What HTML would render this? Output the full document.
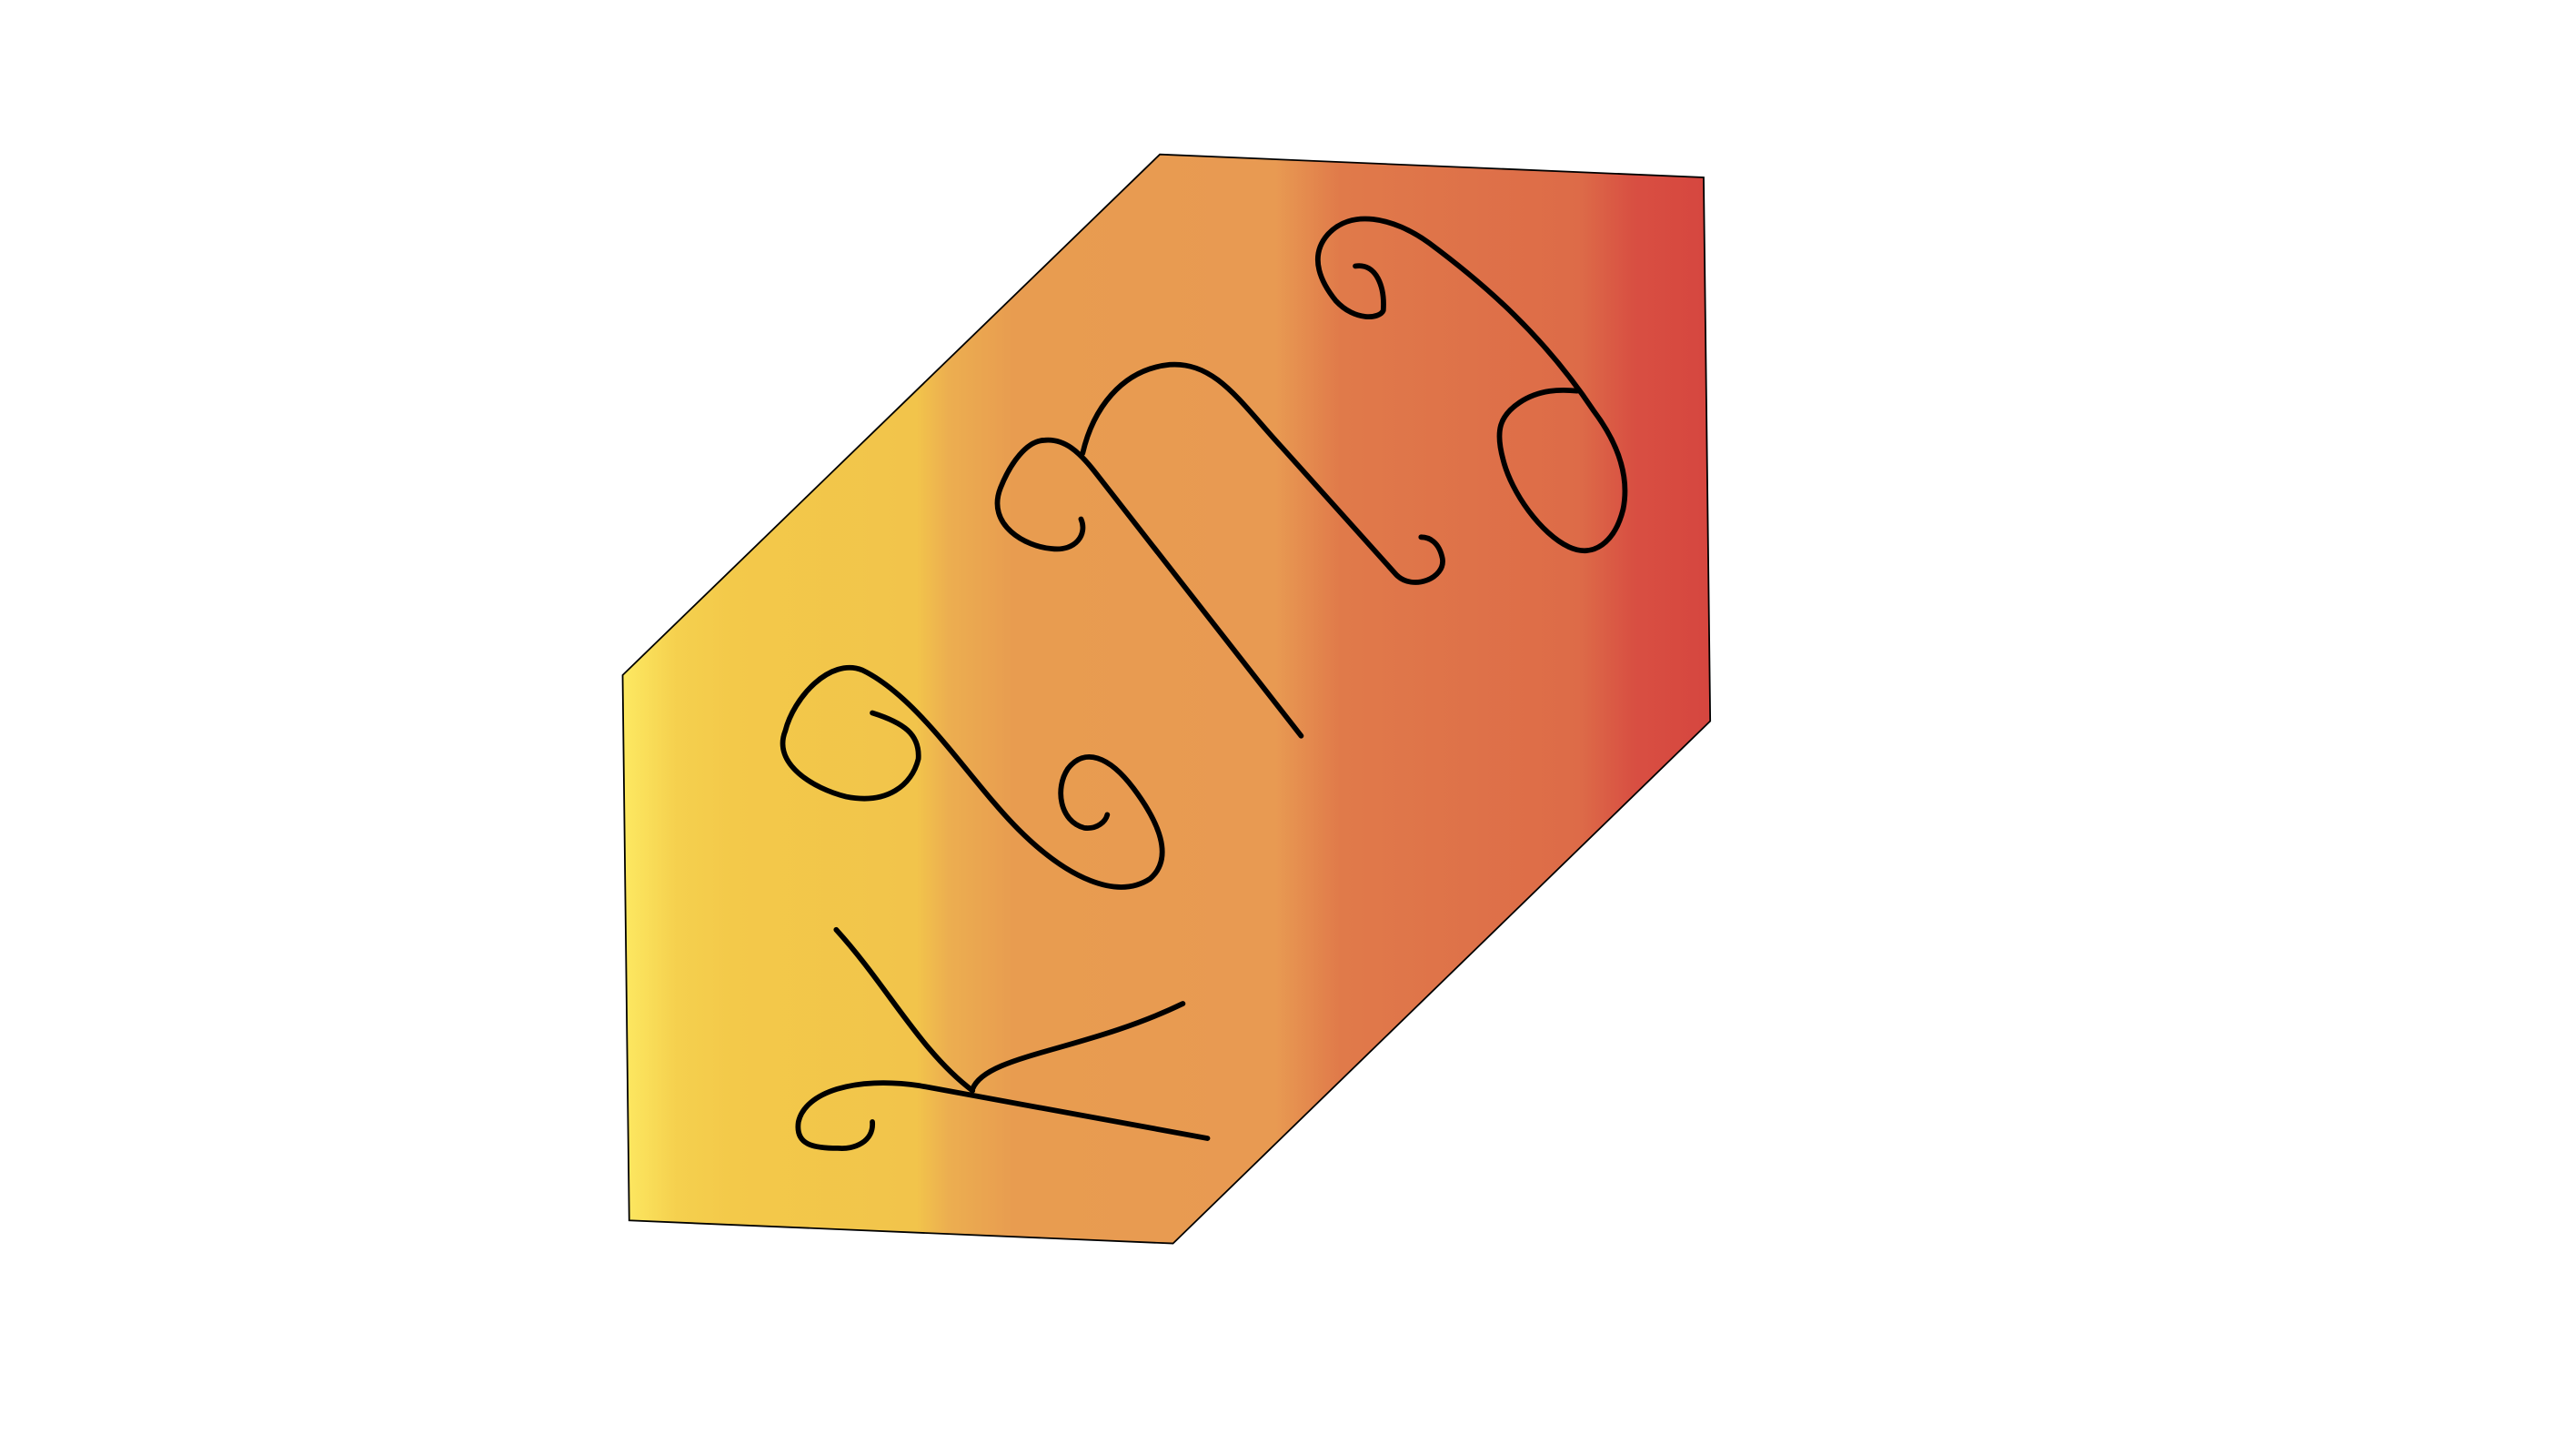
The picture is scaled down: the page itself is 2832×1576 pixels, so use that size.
<!DOCTYPE html>
<html>
<head>
<meta charset="utf-8">
<style>
  html, body { margin: 0; padding: 0; background: #ffffff; }
  body { width: 2832px; height: 1576px; overflow: hidden; }
  svg { display: block; }
</style>
</head>
<body>
<svg width="2832" height="1576" viewBox="0 0 1568 873" preserveAspectRatio="none" xmlns="http://www.w3.org/2000/svg">
  <defs>
    <linearGradient id="grad" gradientUnits="userSpaceOnUse" x1="379" y1="0" x2="1041" y2="0">
      <stop offset="0" stop-color="#fde962"/>
      <stop offset="0.05" stop-color="#f5d04e"/>
      <stop offset="0.10" stop-color="#f3c94a"/>
      <stop offset="0.27" stop-color="#f2c44b"/>
      <stop offset="0.30" stop-color="#ecae50"/>
      <stop offset="0.36" stop-color="#e89c50"/>
      <stop offset="0.60" stop-color="#e89a52"/>
      <stop offset="0.66" stop-color="#e07a4a"/>
      <stop offset="0.88" stop-color="#dd6b48"/>
      <stop offset="0.93" stop-color="#d84f42"/>
      <stop offset="1" stop-color="#d6463f"/>
    </linearGradient>
  </defs>
  <polygon
           points="706,94 1037,108 1041,439 714,757 383,743 379,411"
           fill="url(#grad)" stroke="#000" stroke-width="1"/>
  <g fill="none" stroke="#000" stroke-width="3.2" stroke-linecap="round" stroke-linejoin="round">
    <path
          d="M509,566 C540,600 560,640 592,664
             M592,663 C600,642 660,640 720,611
             M531,683 C532,695 520,700 510,699 C495,699 484,697 486,683 C490,665 520,655 560,661 L735,693"/>
    <path
          d="M531,434 C550,440 560,447 559,462 C555,478 540,490 515,485 C495,480 470,465 478,445 C483,425 505,400 525,408 C560,425 590,475 620,505 C650,535 680,548 700,535 C715,522 705,500 690,480 C675,460 660,455 650,468 C642,480 645,500 660,504 C668,505 673,500 674,496"/>
    <path
          d="M658,316 C662,325 655,336 640,334 C625,333 600,320 609,297 C615,282 625,268 636,268 C648,267 657,275 667,288 L792,448
             M659,276 C665,250 682,225 712,222 C740,220 755,245 780,272 L850,350 C860,360 880,352 878,340 C876,330 870,327 865,327"/>
    <path
          d="M825,162 C838,160 843,175 842,189 C840,194 825,196 813,183 C805,173 796,157 808,143 C822,127 848,132 870,148 C905,174 940,205 970,250 C985,270 992,290 988,310 C983,330 970,340 955,333 C938,325 920,300 915,280 C910,262 913,253 925,245 C937,237 950,237 960,238"/>
  </g>
</svg>
</body>
</html>
